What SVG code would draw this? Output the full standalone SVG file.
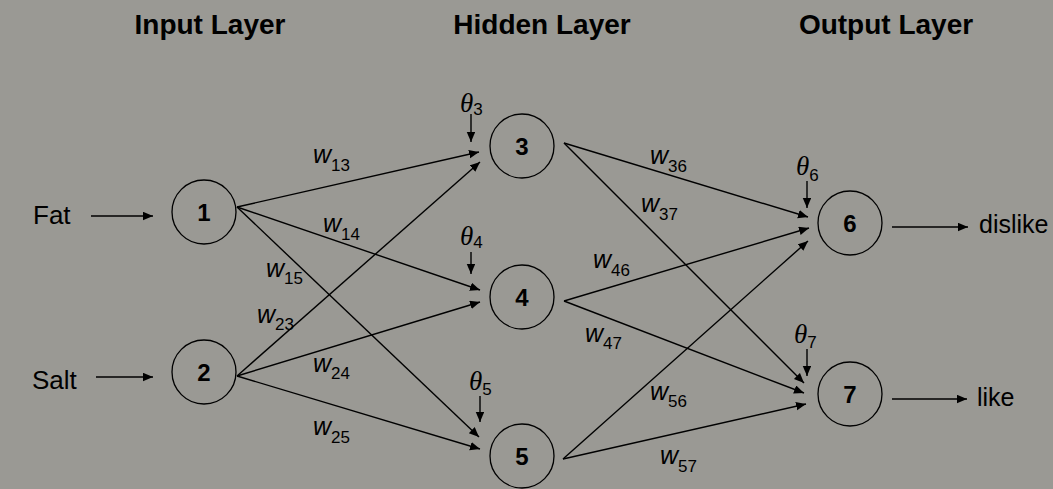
<svg xmlns="http://www.w3.org/2000/svg" width="1053" height="489" viewBox="0 0 1053 489">
<defs>
<style>
.bg{fill:#9a9994}
.hdr{font-family:"Liberation Sans",Arial,sans-serif;font-weight:bold;font-size:28px;fill:#000;text-anchor:middle}
.lbl{font-family:"Liberation Sans",Arial,sans-serif;font-size:25px;fill:#000}
.lbl2{font-family:"Liberation Sans",Arial,sans-serif;font-size:26px;fill:#000}
.num{font-family:"Liberation Sans",Arial,sans-serif;font-weight:bold;font-size:24px;fill:#000;text-anchor:middle}
.w{font-family:"Liberation Sans",Arial,sans-serif;font-style:italic;font-size:25px;fill:#000}
.sub{font-family:"Liberation Sans",Arial,sans-serif;font-style:normal;font-size:17px;fill:#000}
.th{font-family:"Liberation Serif","Times New Roman",serif;font-style:italic;font-size:27px;fill:#000}
.node{fill:none;stroke:#000;stroke-width:1.3}
.edge{stroke:#000;stroke-width:1.4;fill:none;marker-end:url(#ah)}
</style>
<marker id="ah" markerUnits="userSpaceOnUse" markerWidth="12" markerHeight="10" refX="10" refY="4.25" orient="auto" viewBox="0 0 12 10">
<path d="M0,0 L10,4.25 L0,8.5 z" fill="#000"/>
</marker>
</defs>
<rect class="bg" x="0" y="0" width="1053" height="489"/>
<g id="headers">
<text class="hdr" x="210" y="34">Input Layer</text>
<text class="hdr" x="542" y="34">Hidden Layer</text>
<text class="hdr" x="886" y="34">Output Layer</text>
</g>
<g id="connectors">
<line class="edge" x1="91" y1="216" x2="153" y2="216"/>
<line class="edge" x1="96" y1="377" x2="153" y2="377"/>
<line class="edge" x1="237" y1="207" x2="479" y2="152"/>
<line class="edge" x1="237" y1="207" x2="480" y2="290"/>
<line class="edge" x1="237" y1="207" x2="479" y2="437"/>
<line class="edge" x1="237" y1="376" x2="480" y2="162"/>
<line class="edge" x1="237" y1="376" x2="480" y2="302"/>
<line class="edge" x1="237" y1="376" x2="480" y2="449"/>
<line class="edge" x1="564" y1="143" x2="808" y2="217"/>
<line class="edge" x1="564" y1="143" x2="804" y2="383"/>
<line class="edge" x1="564" y1="301" x2="809" y2="228"/>
<line class="edge" x1="564" y1="301" x2="804" y2="393"/>
<line class="edge" x1="563" y1="459" x2="808" y2="241"/>
<line class="edge" x1="563" y1="459" x2="806" y2="404"/>
<line class="edge" x1="471" y1="114" x2="471" y2="142"/>
<line class="edge" x1="471" y1="252" x2="471" y2="274"/>
<line class="edge" x1="480" y1="396" x2="480" y2="422"/>
<line class="edge" x1="807" y1="181" x2="807" y2="208"/>
<line class="edge" x1="807" y1="349" x2="807" y2="376"/>
<line class="edge" x1="892" y1="227" x2="968" y2="227"/>
<line class="edge" x1="892" y1="399" x2="967" y2="399"/>
</g>
<g id="input-labels">
<text class="lbl2" x="33" y="224">Fat</text>
<text class="lbl2" x="32" y="389">Salt</text>
</g>
<g id="node1"><circle class="node" cx="204" cy="212" r="32"/><text class="num" x="204" y="221">1</text></g>
<g id="node2"><circle class="node" cx="204" cy="372" r="32"/><text class="num" x="204" y="381">2</text></g>
<g id="node3"><circle class="node" cx="522" cy="146" r="32"/><text class="num" x="522" y="155">3</text></g>
<g id="node4"><circle class="node" cx="522" cy="297" r="32"/><text class="num" x="522" y="306">4</text></g>
<g id="node5"><circle class="node" cx="522" cy="456" r="32"/><text class="num" x="522" y="465">5</text></g>
<g id="node6"><circle class="node" cx="850" cy="223" r="32"/><text class="num" x="850" y="232">6</text></g>
<g id="node7"><circle class="node" cx="850" cy="394" r="32"/><text class="num" x="850" y="403">7</text></g>
<g id="output-labels">
<text class="lbl" x="979" y="233">dislike</text>
<text class="lbl" x="977" y="406">like</text>
</g>
<g id="weights">
<text class="w" x="313" y="163">w<tspan class="sub" dy="8">13</tspan></text>
<text class="w" x="323" y="232">w<tspan class="sub" dy="8">14</tspan></text>
<text class="w" x="266" y="277">w<tspan class="sub" dy="7">15</tspan></text>
<text class="w" x="257" y="323">w<tspan class="sub" dy="7">23</tspan></text>
<text class="w" x="313" y="372">w<tspan class="sub" dy="7">24</tspan></text>
<text class="w" x="313" y="435">w<tspan class="sub" dy="8">25</tspan></text>
<text class="w" x="650" y="164">w<tspan class="sub" dy="8">36</tspan></text>
<text class="w" x="641" y="212">w<tspan class="sub" dy="8">37</tspan></text>
<text class="w" x="593" y="268">w<tspan class="sub" dy="8">46</tspan></text>
<text class="w" x="585" y="342">w<tspan class="sub" dy="7">47</tspan></text>
<text class="w" x="650" y="400">w<tspan class="sub" dy="7">56</tspan></text>
<text class="w" x="660" y="464">w<tspan class="sub" dy="8">57</tspan></text>
</g>
<g id="biases">
<text class="th" x="460" y="112">θ<tspan class="sub" dy="3">3</tspan></text>
<text class="th" x="460" y="245">θ<tspan class="sub" dy="3">4</tspan></text>
<text class="th" x="469" y="390">θ<tspan class="sub" dy="5">5</tspan></text>
<text class="th" x="796" y="175">θ<tspan class="sub" dy="6">6</tspan></text>
<text class="th" x="794" y="343">θ<tspan class="sub" dy="5">7</tspan></text>
</g>
</svg>
